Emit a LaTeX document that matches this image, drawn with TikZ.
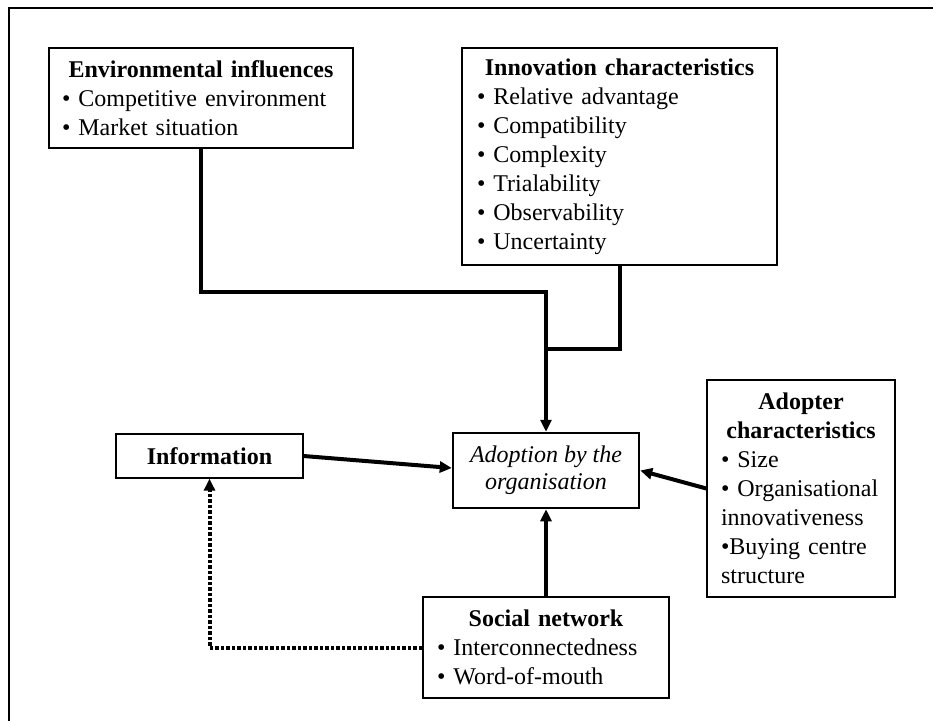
\documentclass[tikz,border=0pt]{standalone}
\usepackage{fontspec}
\setmainfont{Liberation Serif}
\usetikzlibrary{arrows.meta}
\tikzset{%
  mybox/.style={draw=black, line width=1.3pt, inner sep=0pt, align=left,
    font=\fontsize{24}{29}\selectfont},
  midbox/.style={draw=black, line width=2.5pt, inner sep=0pt, align=center,
    font=\fontsize{24}{27}\selectfont\itshape},
  myline/.style={line width=4pt},
  myedge/.style={->, line width=4pt, >={Triangle[length=12pt,width=11pt]}},
  dotedge/.style={myedge, dash pattern=on 3.5pt off 2pt}
}
\newcommand{\boxtitle}[1]{\makebox[\linewidth]{\textbf{#1}}}

\begin{document}
\begin{tikzpicture}[x=1pt, y=-1pt]
  \useasboundingbox (0,0) rectangle (933,720);
  \draw[line width=2pt] (9,8) rectangle (950,740);

  \node[mybox, minimum width=304pt, minimum height=100pt, text width=278pt] (env) at (201,98)
    {\boxtitle{Environmental influences}\\
     • Competitive environment\\
     • Market situation};
  \node[mybox, minimum width=315pt, minimum height=217pt, text width=285pt] (innov) at (619.5,156.5)
    {\boxtitle{Innovation characteristics}\\
     • Relative advantage\\
     • Compatibility\\
     • Complexity\\
     • Trialability\\
     • Observability\\
     • Uncertainty};
  \node[midbox, minimum width=186pt, minimum height=75pt] (org) at (546,470.5)
    {Adoption by the\\organisation};
  \node[mybox, align=center, minimum width=187pt, minimum height=44pt] (info) at (209.5,456)
    {\textbf{Information}};
  \node[mybox, minimum width=188pt, minimum height=217pt, text width=160pt] (adopt) at (801,488.5)
    {\boxtitle{Adopter}\\
     \boxtitle{characteristics}\\
     • Size\\
     • Organisational\\
     innovativeness\\
     •Buying centre\\
     structure};
  \node[mybox, minimum width=246pt, minimum height=101pt, text width=218pt] (social) at (546,647.5)
    {\boxtitle{Social network}\\
     • Interconnectedness\\
     • Word-of-mouth};

  \coordinate (junc) at (546,292);
  \coordinate (meet) at (546,349);

  \draw[myedge] (env.south) |- (junc) -- (org.north);
  \draw[myline] (innov.south) |- (meet);
  \draw[myedge] (info.east) -- ([yshift=2.5pt]org.west);
  \draw[myedge] (adopt.west) -- (org.east);
  \draw[myedge] (social.north) -- (org.south);
  \draw[dotedge] (social.west) -| (info.south);
\end{tikzpicture}
\end{document}
